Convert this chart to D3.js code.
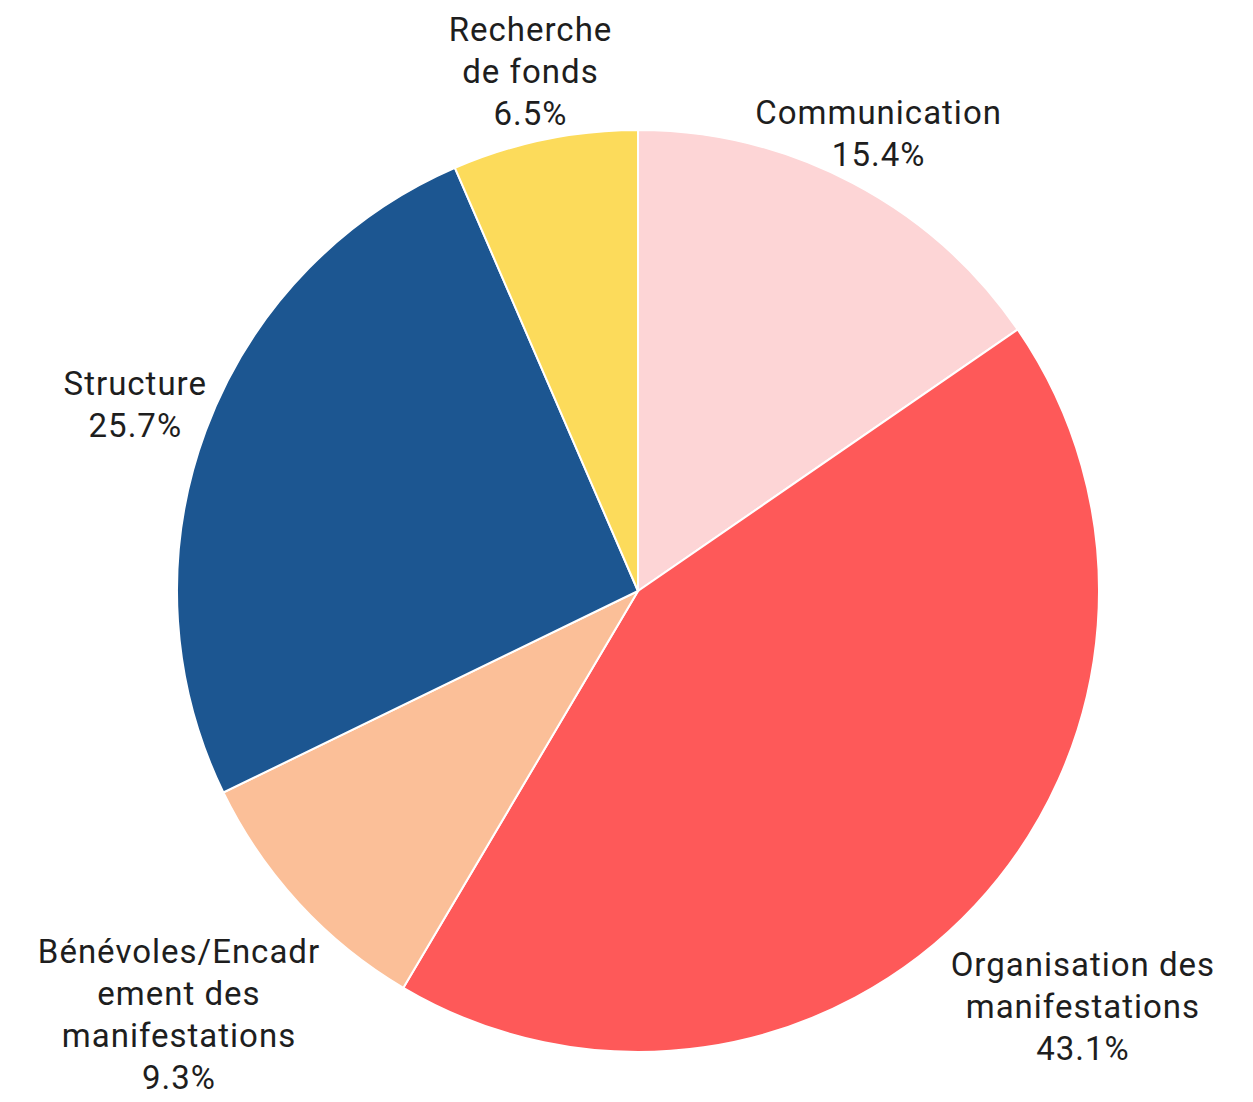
<!DOCTYPE html>
<html>
<head>
<meta charset="utf-8">
<script src="https://cdn.jsdelivr.net/npm/d3@7"></script>
<style>
  body { margin: 0; background: #fff; }
  svg text { font-family: Roboto, "Noto Sans", sans-serif; fill: #1e1e1e; letter-spacing: 1px; }
</style>
</head>
<body>
<div class="chart"></div>
<script>
// Data, clockwise from 12 o'clock
var labels = [
    ["Communication"],
    ["Organisation des", "manifestations"],
    ["Bénévoles/Encadr", "ement des", "manifestations"],
    ["Structure"],
    ["Recherche", "de fonds"]
];
var values = [15.4, 43.1, 9.3, 25.7, 6.5];
var colors = ["#fdd5d6", "#fe5959", "#fbbf98", "#1c5691", "#fcdb5b"];

// label distance from centre, as a multiple of the radius
var labelDist = [1.122, 1.32, 1.354, 1.163, 1.15];

var width = 1253, height = 1102;
var cx = 638, cy = 591, radius = 461;
var lineH = 42;

var svg = d3.select(".chart").append("svg")
    .attr("width", width)
    .attr("height", height);

var g = svg.append("g")
    .attr("transform", "translate(" + cx + "," + cy + ")");

var pie = d3.pie().sort(null).value(function(d) { return d; });
var arcs = pie(values);
var arc = d3.arc().innerRadius(0).outerRadius(radius);

g.selectAll(".slice")
    .data(arcs)
    .enter().append("path")
    .attr("class", "slice")
    .attr("d", arc)
    .attr("fill", function(d, i) { return colors[i]; })
    .attr("stroke", "#fff")
    .attr("stroke-width", 2);

var lab = g.selectAll(".label")
    .data(arcs)
    .enter().append("text")
    .attr("class", "label")
    .attr("text-anchor", "middle")
    .attr("font-size", 33)
    .attr("transform", function(d, i) {
	var a = (d.startAngle + d.endAngle) / 2;
	var r = radius * labelDist[i];
	return "translate(" + (r * Math.sin(a)) + "," + (-r * Math.cos(a)) + ")";
    });

lab.each(function(d, i) {
    var lines = labels[i].concat([d3.format(".1f")(values[i]) + "%"]);
    var t = d3.select(this);
    var y0 = -(lines.length - 1) * lineH / 2;
    lines.forEach(function(s, k) {
	t.append("tspan")
	    .attr("x", 0)
	    .attr("y", y0 + k * lineH)
	    .attr("dy", "0.35em")
	    .text(s);
    });
});
</script>
</body>
</html>
